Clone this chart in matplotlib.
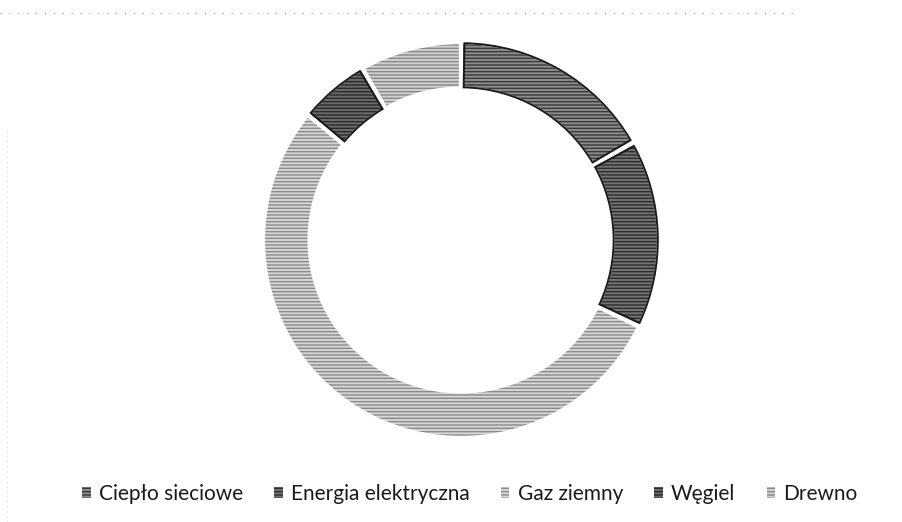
import matplotlib
matplotlib.use("Agg")
import matplotlib.pyplot as plt
from matplotlib.patches import Patch

# udzial nosnikow energii [%]
labels = ["Ciepło sieciowe", "Energia elektryczna", "Gaz ziemny", "Węgiel", "Drewno"]
values = [16.8, 15.4, 53.7, 5.8, 8.3]

fills = ["#8c8c8c", "#727272", "#d6d6d6", "#6a6a6a", "#cfcfcf"]
hatch_colors = ["#3a3a3a", "#2e2e2e", "#8a8a8a", "#2a2a2a", "#8a8a8a"]
outlines = [True, True, False, True, False]

W, H = 902, 522
RING = 0.235
fig = plt.figure(figsize=(W / 100, H / 100), dpi=100)
fig.patch.set_facecolor("white")

cx, cy, r = 461, 240, 198
ax = fig.add_axes([(cx - r) / W, (H - cy - r) / H, 2 * r / W, 2 * r / H])

# base fills
wedges, _ = ax.pie(values, colors=fills, startangle=90, counterclock=False,
                   radius=1.0, wedgeprops=dict(width=RING, linewidth=0))

# horizontal line texture like the scanned print
for w, hc in zip(wedges, hatch_colors):
    overlay, _ = ax.pie([1], radius=1.0, startangle=90, wedgeprops=dict(width=RING))
    o = overlay[0]
    o.set_theta1(w.theta1)
    o.set_theta2(w.theta2)
    o.set_facecolor("none")
    o.set_edgecolor(hc)
    o.set_hatch("-----")
    o.set_linewidth(0)

# white gaps between slices
ax.pie(values, startangle=90, counterclock=False, radius=1.0,
       wedgeprops=dict(width=RING, facecolor="none", edgecolor="white", linewidth=3))

# dark outline on the darker slices
for w, has_outline in zip(wedges, outlines):
    if not has_outline:
        continue
    d = 1.0
    edge, _ = ax.pie([1], radius=0.994, startangle=90, wedgeprops=dict(width=RING - 0.012))
    e = edge[0]
    e.set_theta1(w.theta1 + d)
    e.set_theta2(w.theta2 - d)
    e.set_facecolor("none")
    e.set_edgecolor("#1a1a1a")
    e.set_linewidth(1.4)

ax.set_xlim(-1, 1)
ax.set_ylim(-1, 1)
ax.set_aspect("equal")
ax.axis("off")

# faint dotted chart border left by the scan
fig.add_artist(plt.Line2D([0.0, 0.88], [1 - 13 / H, 1 - 13 / H], transform=fig.transFigure,
                          color="#999999", linestyle=(0, (1, 7)), linewidth=0.8))
fig.add_artist(plt.Line2D([7 / W, 7 / W], [0.0, 0.75], transform=fig.transFigure,
                          color="#bbbbbb", linestyle=(0, (1, 5)), linewidth=0.6))

handles = [Patch(facecolor=f, edgecolor=hc, hatch="-----", linewidth=0)
           for f, hc in zip(fills, hatch_colors)]
fig.legend(
    handles, labels,
    loc="center",
    bbox_to_anchor=(470 / W, 1 - 494 / H),
    ncol=5,
    frameon=False,
    handlelength=0.4,
    handleheight=0.4,
    handletextpad=0.4,
    columnspacing=1.5,
    prop={"family": "Lato", "size": 15},
    labelcolor="#1a1a1a",
)

fig.savefig("out.png", dpi=100, facecolor="white")
